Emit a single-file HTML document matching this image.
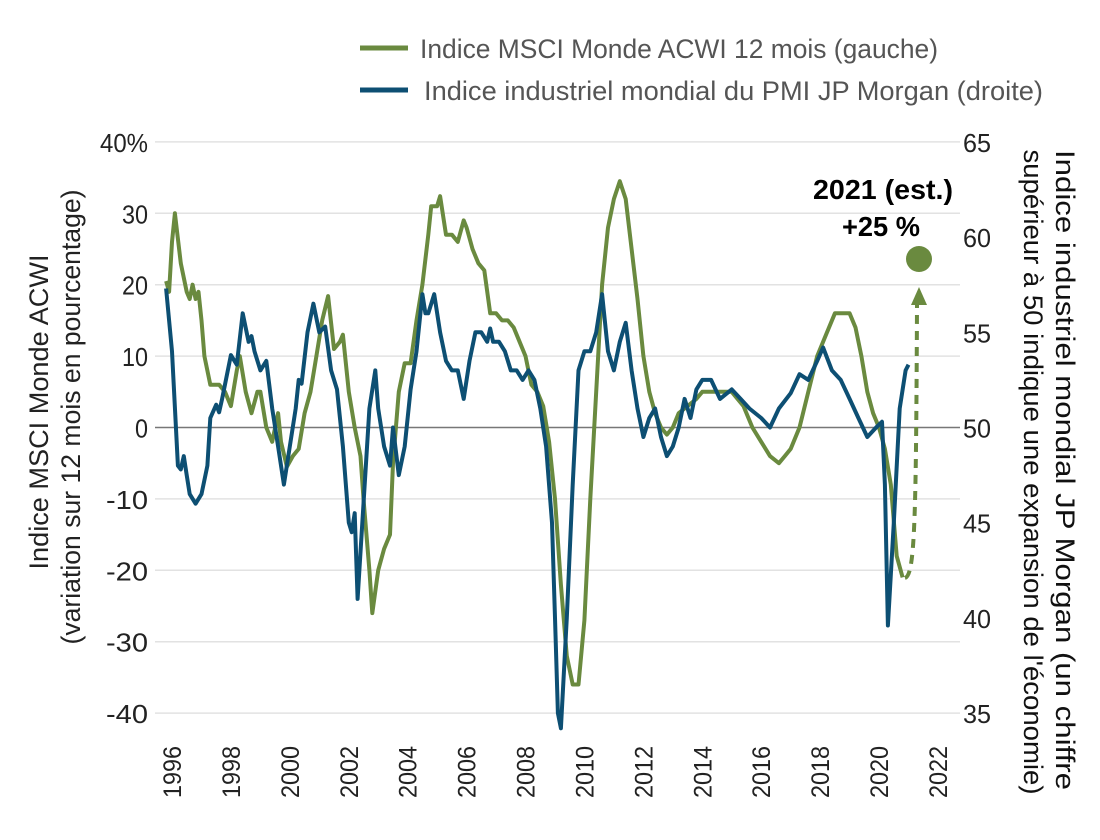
<!DOCTYPE html>
<html><head><meta charset="utf-8"><style>
html,body{margin:0;padding:0;background:#fff}
svg text{font-family:"Liberation Sans Narrow","Liberation Sans",sans-serif}
</style></head><body>
<svg id="c" width="1100" height="835" viewBox="0 0 1100 835" xmlns="http://www.w3.org/2000/svg">
<g id="grid"></g>
<line x1="155" x2="960" y1="427.5" y2="427.5" stroke="#777" stroke-width="1.5"/>
<g font-size="26" fill="#222" id="lt"></g>
<path id="g" fill="none" stroke="#6a8a3f" stroke-width="4" stroke-linejoin="round"/>
<path id="b" fill="none" stroke="#0d4f73" stroke-width="4" stroke-linejoin="round"/>
<path d="M905,578 C915,575 916,520 917,305" fill="none" stroke="#6a8a3f" stroke-width="4" stroke-dasharray="9,7"/>
<polygon points="919,287 911,305 927,305" fill="#6a8a3f"/>
<circle cx="919" cy="259" r="13" fill="#6a8a3f"/>
<text x="883" y="199" font-size="28" font-weight="bold" text-anchor="middle" fill="#000" textLength="140" lengthAdjust="spacingAndGlyphs">2021 (est.)</text>
<text x="881" y="236" font-size="28" font-weight="bold" text-anchor="middle" fill="#000" textLength="78" lengthAdjust="spacingAndGlyphs">+25 %</text>
<line x1="360" x2="408" y1="48" y2="48" stroke="#6a8a3f" stroke-width="5"/>
<line x1="360" x2="408" y1="90" y2="90" stroke="#0d4f73" stroke-width="5"/>
<text x="420" y="58" font-size="27" fill="#555" textLength="518" lengthAdjust="spacingAndGlyphs">Indice MSCI Monde ACWI 12 mois (gauche)</text>
<text x="424" y="100" font-size="27" fill="#555" textLength="619" lengthAdjust="spacingAndGlyphs">Indice industriel mondial du PMI JP Morgan (droite)</text>
<text transform="translate(48,412) rotate(-90)" font-size="27" fill="#222" text-anchor="middle" textLength="315" lengthAdjust="spacingAndGlyphs">Indice MSCI Monde ACWI</text>
<text transform="translate(80,417) rotate(-90)" font-size="27" fill="#222" text-anchor="middle" textLength="455" lengthAdjust="spacingAndGlyphs">(variation sur 12 mois en pourcentage)</text>
<text transform="translate(1056,470) rotate(90)" font-size="27" fill="#111" text-anchor="middle" textLength="640" lengthAdjust="spacingAndGlyphs">Indice industriel mondial JP Morgan (un chiffre</text>
<text transform="translate(1024,472) rotate(90)" font-size="27" fill="#111" text-anchor="middle" textLength="645" lengthAdjust="spacingAndGlyphs">supérieur à 50 indique une expansion de l'économie)</text>
</svg>
<script>
var ns="http://www.w3.org/2000/svg",svg=document.getElementById('c');
function X(t){return 172+(t-1996)*29.46}
function YL(v){return 427.5-v*7.14}
function YR(v){return 427.5-(v-50)*19.04}
function el(n,a,txt,p){var e=document.createElementNS(ns,n);for(var k in a)e.setAttribute(k,a[k]);if(txt!=null)e.textContent=txt;(p||svg).appendChild(e);return e}
var grid=document.getElementById('grid'),lt=document.getElementById('lt');
for(var v=40;v>=-40;v-=10){var y=YL(v);if(v!=0)el('line',{x1:155,x2:960,y1:y,y2:y,stroke:'#e2e2e2','stroke-width':1.5},null,grid);
var s=v==40?'40%':String(v);
var L=v==40?48:(v==0?13:(v<0?42:26));
el('text',{x:148,y:y+10,'text-anchor':'end',textLength:L,lengthAdjust:'spacingAndGlyphs'},s,lt);}
for(var r=65;r>=35;r-=5){el('text',{x:963,y:YR(r)+10,'font-size':26,fill:'#222',textLength:28,lengthAdjust:'spacingAndGlyphs'},String(r));}
for(var yr=1996;yr<=2022;yr+=2){var x=X(yr);el('text',{transform:'translate('+(x+9)+',772) rotate(-90)','font-size':25,fill:'#222','text-anchor':'middle',textLength:52,lengthAdjust:'spacingAndGlyphs'},String(yr));}
var G=[[1995.8,20.5],[1995.9,19],[1996.0,26],[1996.1,30],[1996.3,23],[1996.5,19],[1996.6,18],[1996.7,20],[1996.8,18],[1996.9,19],[1997.0,15],[1997.1,10],[1997.3,6],[1997.6,6],[1997.8,5],[1998.0,3],[1998.2,8],[1998.3,10],[1998.5,5],[1998.7,2],[1998.9,5],[1999.0,5],[1999.2,0],[1999.4,-2],[1999.6,2],[1999.7,-2],[1999.9,-5.5],[2000.1,-4],[2000.3,-3],[2000.5,2],[2000.7,5],[2000.9,10],[2001.1,15],[2001.3,18.4],[2001.5,11],[2001.7,12],[2001.8,13],[2002.0,5],[2002.2,0],[2002.4,-4],[2002.5,-10],[2002.7,-20],[2002.8,-26],[2003.0,-20],[2003.2,-17],[2003.4,-15],[2003.5,-5],[2003.7,5],[2003.9,9],[2004.1,9],[2004.3,15],[2004.5,20],[2004.7,27],[2004.8,31],[2005.0,31],[2005.1,32.4],[2005.3,27],[2005.5,27],[2005.7,26],[2005.9,29],[2006.0,28],[2006.2,25],[2006.4,23],[2006.6,22],[2006.8,16],[2007.0,16],[2007.2,15],[2007.4,15],[2007.6,14],[2007.8,12],[2008.0,10],[2008.2,6],[2008.4,5],[2008.6,3],[2008.8,-2],[2009.0,-10],[2009.2,-22],[2009.4,-32],[2009.6,-36],[2009.8,-36],[2010.0,-27],[2010.2,-10],[2010.4,5],[2010.6,20],[2010.8,28],[2011.0,32],[2011.2,34.5],[2011.4,32],[2011.6,25],[2011.8,18],[2012.0,10],[2012.2,5],[2012.4,2],[2012.6,0],[2012.8,-1],[2013.0,0],[2013.2,2],[2013.5,3],[2013.8,4],[2014.0,5],[2014.5,5],[2015.0,5],[2015.4,3],[2015.7,0],[2016.0,-2],[2016.3,-4],[2016.6,-5],[2016.8,-4],[2017.0,-3],[2017.3,0],[2017.6,5],[2017.9,10],[2018.2,13],[2018.5,16],[2018.8,16],[2019.0,16],[2019.2,14],[2019.4,10],[2019.6,5],[2019.8,2],[2020.0,0],[2020.2,-3],[2020.4,-8],[2020.6,-18],[2020.8,-21]];
var B=[[1995.8,57.3],[1996.0,54],[1996.2,48],[1996.3,47.8],[1996.4,48.5],[1996.5,47.5],[1996.6,46.5],[1996.8,46],[1997.0,46.5],[1997.2,48],[1997.3,50.5],[1997.5,51.2],[1997.6,50.8],[1997.7,51.5],[1998.0,53.8],[1998.2,53.3],[1998.4,56],[1998.6,54.5],[1998.7,54.8],[1998.8,54],[1999.0,53],[1999.2,53.5],[1999.4,51],[1999.6,49],[1999.8,47],[2000.0,49],[2000.2,51],[2000.3,52.5],[2000.4,52.3],[2000.6,55],[2000.8,56.5],[2001.0,55],[2001.2,55.3],[2001.4,53],[2001.6,52],[2001.8,49],[2002.0,45],[2002.1,44.5],[2002.2,45.5],[2002.3,41],[2002.5,46],[2002.7,51],[2002.9,53],[2003.0,51],[2003.2,49],[2003.4,48],[2003.5,50],[2003.7,47.5],[2003.9,49],[2004.1,52],[2004.3,54],[2004.5,57],[2004.6,56],[2004.7,56],[2004.9,57],[2005.1,55],[2005.3,53.5],[2005.5,53],[2005.7,53],[2005.9,51.5],[2006.1,53.5],[2006.3,55],[2006.5,55],[2006.7,54.5],[2006.8,55.2],[2006.9,54.5],[2007.1,54.5],[2007.3,54],[2007.5,53],[2007.7,53],[2007.9,52.5],[2008.1,53],[2008.3,52.5],[2008.5,51],[2008.7,49],[2008.9,45],[2009.0,40],[2009.1,35],[2009.2,34.2],[2009.4,40],[2009.6,47],[2009.8,53],[2010.0,54],[2010.2,54],[2010.4,55],[2010.6,57],[2010.8,54],[2011.0,53],[2011.2,54.5],[2011.4,55.5],[2011.6,53],[2011.8,51],[2012.0,49.5],[2012.2,50.5],[2012.4,51],[2012.6,49.5],[2012.8,48.5],[2013.0,49],[2013.2,50],[2013.4,51.5],[2013.6,50.5],[2013.8,52],[2014.0,52.5],[2014.3,52.5],[2014.6,51.5],[2015.0,52],[2015.3,51.5],[2015.6,51],[2016.0,50.5],[2016.3,50],[2016.6,51],[2017.0,51.8],[2017.3,52.8],[2017.6,52.5],[2017.9,53.5],[2018.1,54.2],[2018.4,53],[2018.7,52.5],[2019.0,51.5],[2019.3,50.5],[2019.6,49.5],[2019.9,50],[2020.1,50.3],[2020.2,47],[2020.3,39.6],[2020.5,45],[2020.7,51],[2020.9,53],[2021.0,53.3]];
function P(a,f){return a.map(function(p,i){return (i?'L':'M')+X(p[0]).toFixed(1)+','+f(p[1]).toFixed(1)}).join('')}
document.getElementById('g').setAttribute('d',P(G,YL));
document.getElementById('b').setAttribute('d',P(B,YR));
</script>
</body></html>
